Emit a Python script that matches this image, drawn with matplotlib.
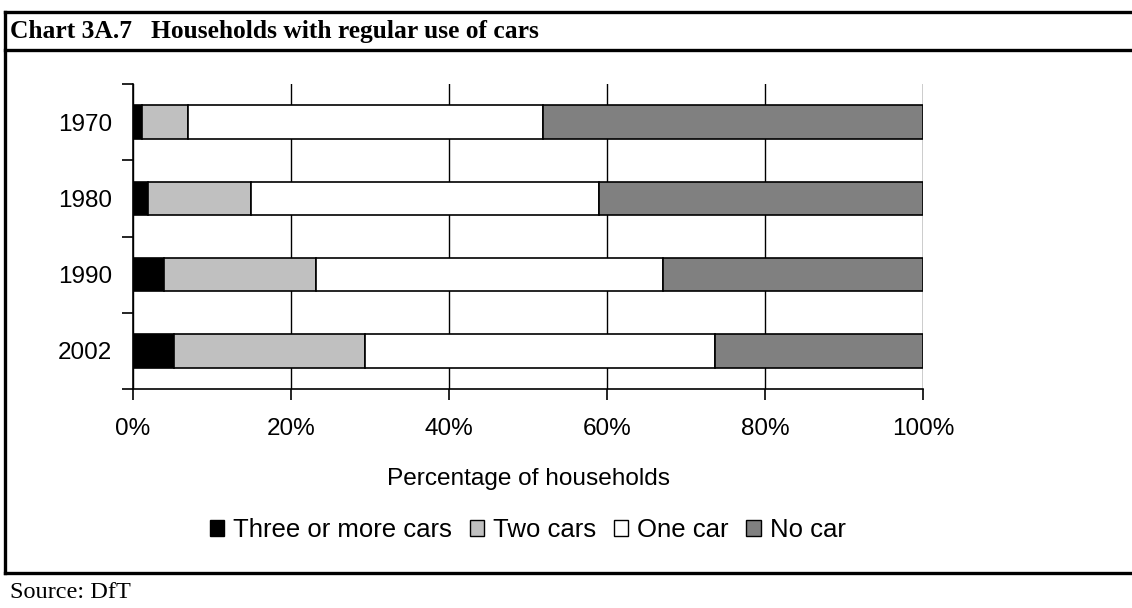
import numpy as np
import matplotlib
matplotlib.use('Agg')
import matplotlib.pyplot as plt
from matplotlib.lines import Line2D
from matplotlib.patches import Patch

# --- Data (percent of households) ---
years = ['1970', '1980', '1990', '2002']
three_plus = [1.2, 1.9, 3.9, 5.2]
two_cars = [5.7, 13.0, 19.2, 24.2]
one_car = [45.0, 44.1, 44.0, 44.3]
no_car = [48.1, 41.0, 32.9, 26.3]

series = [
    ('Three or more cars', three_plus, '#000000'),
    ('Two cars', two_cars, '#c0c0c0'),
    ('One car', one_car, '#ffffff'),
    ('No car', no_car, '#808080'),
]

sans = ['Liberation Sans', 'DejaVu Sans']
serif = ['Liberation Serif', 'DejaVu Serif']

fig = plt.figure(figsize=(11.32, 6.08), dpi=100)
ax = fig.add_axes([0.1175, 0.3602, 0.6979, 0.5016])

# --- Stacked horizontal bars ---
ypos = np.arange(len(years))
left = np.zeros(len(years))
for name, vals, col in series:
    ax.barh(ypos, vals, left=left, height=0.44, color=col,
            edgecolor='black', linewidth=1.2, zorder=3, label=name)
    left += np.array(vals)

ax.set_xlim(0, 100)
ax.set_ylim(len(years) - 0.5, -0.5)

# x axis
ax.set_xticks(np.arange(0, 101, 20))
ax.set_xticklabels([f'{v}%' for v in range(0, 101, 20)], family=sans, fontsize=17.5)
ax.tick_params(axis='x', direction='out', length=8, width=1.2, pad=13)
ax.set_xlabel('Percentage of households', family=sans, fontsize=17.6, labelpad=20)
ax.grid(axis='x', color='black', linewidth=1.0, zorder=0)

# y axis: labels at centres, ticks at category boundaries
ax.set_yticks(ypos)
ax.set_yticklabels(years, family=sans, fontsize=17.5)
ax.tick_params(axis='y', which='major', length=0, pad=15)
ax.set_yticks(np.arange(-0.5, len(years)), minor=True)
ax.tick_params(axis='y', which='minor', direction='out', length=8, width=1.2)

for s in ['top', 'right']:
    ax.spines[s].set_visible(False)
for s in ['left', 'bottom']:
    ax.spines[s].set_linewidth(1.2)

# --- Legend ---
handles = [Patch(facecolor=c, edgecolor='black', linewidth=1.0) for _, _, c in series]
fig.legend(handles, [n for n, _, _ in series], loc='center', bbox_to_anchor=(0.466, 0.128),
           ncol=4, frameon=False, prop={'family': sans, 'size': 18.5},
           handlelength=0.55, handleheight=0.55, handletextpad=0.35, columnspacing=0.7)

# --- Frame, title and source ---
lw = 2.4
for y in [0.980, 0.918, 0.0576]:
    fig.add_artist(Line2D([0.0044, 1.0], [y, y], color='black', linewidth=lw,
                          transform=fig.transFigure))
fig.add_artist(Line2D([0.0044, 0.0044], [0.0576, 0.980], color='black', linewidth=lw,
                      transform=fig.transFigure))

fig.text(0.009, 0.949, 'Chart 3A.7   Households with regular use of cars',
         family=serif, fontweight='bold', fontsize=18.4, va='center', ha='left')
fig.text(0.009, 0.026, 'Source: DfT', family=serif, fontsize=17.5, va='center', ha='left')

fig.savefig('out.png', dpi=100)
